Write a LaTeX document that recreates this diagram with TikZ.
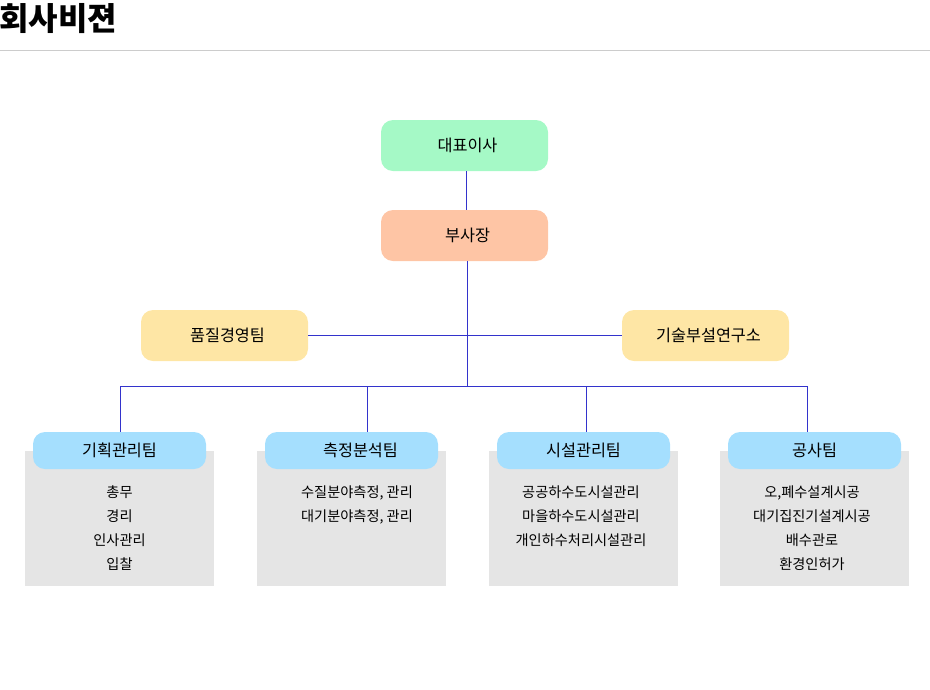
\documentclass[tikz,border=0pt]{standalone}
\usepackage{fontspec}
\setmainfont{Noto Sans CJK KR}
\usetikzlibrary{positioning}
\definecolor{ceogreen}{RGB}{165,249,198}
\definecolor{vporange}{RGB}{254,197,165}
\definecolor{staffyellow}{RGB}{254,230,165}
\definecolor{teamblue}{RGB}{165,223,254}
\definecolor{bodygray}{RGB}{229,229,229}
\definecolor{linkblue}{RGB}{51,51,204}
\definecolor{rulegray}{RGB}{204,204,204}
\tikzset{block/.style=
   {rectangle,
    text centered,
    rounded corners=12pt,
    minimum width=167pt,
    minimum height=51pt,
    font=\fontsize{16.3}{18}\selectfont}}
\tikzset{team/.style =
   {rectangle,
    fill=teamblue,
    text centered,
    rounded corners=12pt,
    minimum width=173pt,
    minimum height=37pt,
    font=\fontsize{16.3}{18}\selectfont}}
\tikzset{duties/.style =
   {rectangle,
    fill=bodygray,
    minimum width=189pt,
    minimum height=135pt}}
\tikzset{dutytext/.style =
   {align=center,
    anchor=north,
    font=\fontsize{14.2}{24}\selectfont}}
\tikzset{link/.style = {draw=linkblue, line width=0.9pt}}

\begin{document}
\begin{tikzpicture}[x=1pt,y=-1pt]
    \useasboundingbox (0,0) rectangle (930,689);

    % title
    \node [anchor=west, font=\fontsize{32}{34}\selectfont\bfseries] (title) at (-4,19) {회사비젼};
    \draw [rulegray, line width=1pt] (0,50) -- (930,50);

    % top of the chart
    \node [block, fill=ceogreen] (ceo) at (464.5,145.5) {\hspace{6pt}대표이사};
    \node [block, fill=vporange] (vp) at (464.5,235.5) {\hspace{6pt}부사장};
    \node [block, fill=staffyellow] (quality) at (224.5,335.5) {\hspace{6pt}품질경영팀};
    \node [block, fill=staffyellow] (lab) at (705.5,335.5) {\hspace{6pt}기술부설연구소};

    \coordinate (hub) at (467,386);
    \coordinate (drop1) at (120,386);
    \coordinate (drop2) at (367,386);
    \coordinate (drop3) at (586,386);
    \coordinate (drop4) at (807,386);

    % team bodies
    \node [duties] (body1) at (119.5,518.5) {};
    \node [duties] (body2) at (351.5,518.5) {};
    \node [duties] (body3) at (583.5,518.5) {};
    \node [duties] (body4) at (814.5,518.5) {};

    % team headers
    \node [team] (team1) at (119.5,450.5) {기획관리팀};
    \node [team] (team2) at (351.5,450.5) {\hspace{18pt}측정분석팀};
    \node [team] (team3) at (583.5,450.5) {시설관리팀};
    \node [team] (team4) at (814.5,450.5) {공사팀};

    \node [dutytext] (list1) at (119.5,482) {총무\\경리\\인사관리\\입찰};
    \node [dutytext] (list2) at (357,482) {수질분야측정, 관리\\대기분야측정, 관리};
    \node [dutytext] (list3) at (581,482) {공공하수도시설관리\\마을하수도시설관리\\개인하수처리시설관리};
    \node [dutytext] (list4) at (812,482) {오,폐수설계시공\\대기집진기설계시공\\배수관로\\환경인허가};

    % connectors
    \draw [link] ([xshift=1.5pt]ceo.south) -- ([xshift=1.5pt]vp.north);
    \draw [link] ([xshift=2.5pt]vp.south) -- (hub);
    \draw [link] (quality.east) -- (lab.west);
    \draw [link] (drop1) -- (drop4);
    \draw [link] (drop1) -- (drop1 |- team1.north);
    \draw [link] (drop2) -- (drop2 |- team2.north);
    \draw [link] (drop3) -- (drop3 |- team3.north);
    \draw [link] (drop4) -- (drop4 |- team4.north);
\end{tikzpicture}
\end{document}
